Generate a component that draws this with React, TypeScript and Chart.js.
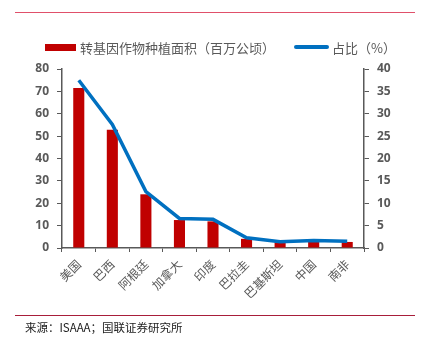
import React, { useEffect, useRef } from "react";
import { Chart, registerables } from "chart.js";

Chart.register(...registerables);

const categories = ["美国", "巴西", "阿根廷", "加拿大", "印度", "巴拉圭", "巴基斯坦", "中国", "南非"];
const areaValues = [71.5, 52.8, 24.0, 12.5, 11.9, 4.1, 2.5, 3.2, 2.7];
const shareValues = [37.5, 27.6, 12.6, 6.6, 6.4, 2.3, 1.4, 1.7, 1.5];
const areaLabel = "转基因作物种植面积（百万公顷）";
const shareLabel = "占比（%）";
const sourceText = "来源：ISAAA；国联证券研究所";

const GRAY = "#595959";
const RED = "#C00000";
const BLUE = "#0070C0";
const CJK = "'Noto Sans CJK SC', 'Noto Sans', sans-serif";
const NUM = "'Open Sans', 'Liberation Sans', sans-serif";

export default function App() {
  const ref = useRef<HTMLCanvasElement | null>(null);

  useEffect(() => {
    document.body.style.margin = "0";
    const canvas = ref.current;
    if (!canvas) return;
    const chart = new Chart(canvas, {
      data: {
        labels: categories,
        datasets: [
          {
            type: "line",
            label: shareLabel,
            data: shareValues,
            yAxisID: "y1",
            borderColor: BLUE,
            backgroundColor: BLUE,
            borderWidth: 3.5,
            pointRadius: 0,
            tension: 0,
            order: 0,
          },
          {
            type: "bar",
            label: areaLabel,
            data: areaValues,
            yAxisID: "y",
            backgroundColor: RED,
            categoryPercentage: 1,
            barPercentage: 0.33,
            order: 1,
          },
        ],
      },
      options: {
        animation: false,
        responsive: false,
        maintainAspectRatio: false,
        layout: { padding: { top: 69, left: 0, right: 0, bottom: 0 } },
        plugins: { legend: { display: false }, tooltip: { enabled: false } },
        scales: {
          x: {
            offset: true,
            grid: {
              display: true,
              offset: true,
              drawOnChartArea: false,
              drawTicks: true,
              tickLength: 4,
              color: GRAY,
            },
            border: { display: true, color: GRAY, width: 1.5 },
            ticks: {
              color: GRAY,
              font: { family: CJK, size: 12 },
              maxRotation: 45,
              minRotation: 45,
              padding: 5,
              autoSkip: false,
            },
            afterFit: (s: any) => {
              s.height = 90;
            },
          },
          y: {
            position: "left",
            min: 0,
            max: 80,
            grid: {
              display: true,
              drawOnChartArea: false,
              drawTicks: true,
              tickLength: 5,
              color: GRAY,
            },
            border: { display: true, color: GRAY, width: 1.5 },
            ticks: {
              stepSize: 10,
              color: GRAY,
              padding: 8,
              font: { family: NUM, size: 12, weight: "bold" },
            },
            afterFit: (s: any) => {
              s.width = 62;
            },
          },
          y1: {
            position: "right",
            min: 0,
            max: 40,
            grid: {
              display: true,
              drawOnChartArea: false,
              drawTicks: true,
              tickLength: 5,
              color: GRAY,
            },
            border: { display: true, color: GRAY, width: 1.5 },
            ticks: {
              stepSize: 5,
              color: GRAY,
              padding: 8,
              font: { family: NUM, size: 12, weight: "bold" },
            },
            afterFit: (s: any) => {
              s.width = 59;
            },
          },
        },
      },
    } as any);
    return () => chart.destroy();
  }, []);

  return (
    <div style={{ position: "relative", width: 423, height: 338, background: "#fff", overflow: "hidden" }}>
      <div style={{ position: "absolute", left: 15, top: 12, width: 400, height: 1, background: "#E0506A" }} />
      <canvas ref={ref} width={423} height={338} style={{ position: "absolute", left: 0, top: 0 }} />
      <div
        style={{
          position: "absolute",
          left: 45,
          top: 37,
          display: "flex",
          alignItems: "center",
          fontFamily: CJK,
          fontSize: 13,
          color: GRAY,
          height: 20,
          whiteSpace: "nowrap",
        }}
      >
        <span style={{ display: "inline-block", width: 31, height: 7, background: RED, marginRight: 4 }} />
        <span>{areaLabel}</span>
        <span style={{ display: "inline-block", width: 35, height: 4, borderRadius: 2, background: BLUE, marginLeft: 19, marginRight: 3 }} />
        <span>{shareLabel}</span>
      </div>
      <div style={{ position: "absolute", left: 15, top: 315, width: 400, height: 1, background: "#A81E3A" }} />
      <div
        style={{
          position: "absolute",
          left: 25,
          top: 319,
          fontFamily: CJK,
          fontSize: 11.5,
          color: "#222",
          whiteSpace: "nowrap",
        }}
      >
        {sourceText}
      </div>
    </div>
  );
}
